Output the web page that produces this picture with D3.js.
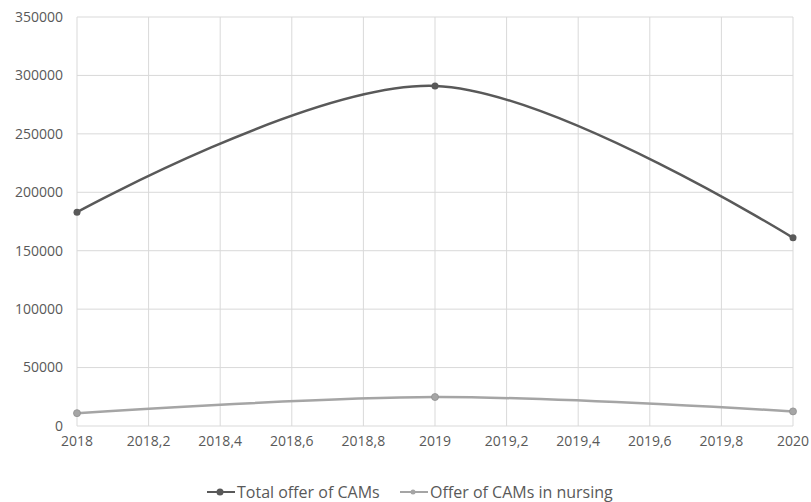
<!DOCTYPE html>
<html>
<head>
<meta charset="utf-8">
<script src="https://cdn.jsdelivr.net/npm/d3@7"></script>
<style>
  body { margin: 0; background: #fff; }
  text { font-family: "Open Sans", sans-serif; }
</style>
</head>
<body>
<script>
const years = [2018, 2019, 2020]
const totalOffer = [183000, 291000, 161000]
const nursingOffer = [11000, 24800, 12500]
const yTicks = [0, 50000, 100000, 150000, 200000, 250000, 300000, 350000]
const xTicks = [2018, 2018.2, 2018.4, 2018.6, 2018.8, 2019, 2019.2, 2019.4, 2019.6, 2019.8, 2020]
const seriesNames = ['Total offer of CAMs', 'Offer of CAMs in nursing']
const seriesColors = ['#595959', '#a5a5a5']

const width = 811
const height = 502
const plotLeft = 77, plotRight = 793, plotTop = 17, plotBottom = 426

const svg = d3.select('body').append('svg')
  .attr('width', width)
  .attr('height', height)

const x = d3.scaleLinear().domain([2018, 2020]).range([plotLeft, plotRight])
const y = d3.scaleLinear().domain([0, 350000]).range([plotBottom, plotTop])

// grid
svg.append('g')
  .selectAll('line')
  .data(yTicks)
  .enter()
  .append('line')
  .attr('x1', plotLeft).attr('x2', plotRight)
  .attr('y1', (d) => y(d)).attr('y2', (d) => y(d))
  .attr('stroke', '#d9d9d9')
  .attr('stroke-width', 1)

svg.append('g')
  .selectAll('line')
  .data(xTicks)
  .enter()
  .append('line')
  .attr('x1', (d) => x(d)).attr('x2', (d) => x(d))
  .attr('y1', plotTop).attr('y2', plotBottom)
  .attr('stroke', '#d9d9d9')
  .attr('stroke-width', 1)

// axes labels
const fmt = (d) => String(+d.toFixed(1)).replace('.', ',')

svg.append('g')
  .selectAll('text')
  .data(yTicks)
  .enter()
  .append('text')
  .attr('x', 63)
  .attr('y', (d) => y(d))
  .attr('dy', '0.35em')
  .attr('text-anchor', 'end')
  .attr('fill', '#595959')
  .style('font-size', '14px')
  .text((d) => d)

svg.append('g')
  .selectAll('text')
  .data(xTicks)
  .enter()
  .append('text')
  .attr('x', (d) => x(d))
  .attr('y', 446)
  .attr('text-anchor', 'middle')
  .attr('fill', '#595959')
  .style('font-size', '14px')
  .text(fmt)

// lines
const line = d3.line()
  .x((d) => x(d[0]))
  .y((d) => y(d[1]))
  .curve(d3.curveCardinal.tension(0))

const series = [totalOffer, nursingOffer].map((vals) => years.map((yr, i) => [yr, vals[i]]))

series.forEach((pts, i) => {
  svg.append('path')
    .datum(pts)
    .attr('d', line)
    .attr('fill', 'none')
    .attr('stroke', seriesColors[i])
    .attr('stroke-width', 2.5)

  svg.append('g')
    .selectAll('circle')
    .data(pts)
    .enter()
    .append('circle')
    .attr('cx', (d) => x(d[0]))
    .attr('cy', (d) => y(d[1]))
    .attr('r', 3.5)
    .attr('fill', seriesColors[i])
    .attr('stroke', i === 0 ? 'none' : '#8f8f8f')
    .attr('stroke-width', 0.8)
})

// legend
const legend = svg.append('g').attr('transform', 'translate(207, 492)')
const legendX = [0, 193]
seriesNames.forEach((name, i) => {
  const g = legend.append('g').attr('transform', `translate(${legendX[i]}, 0)`)
  g.append('line')
    .attr('x1', 0).attr('x2', 28)
    .attr('stroke', seriesColors[i])
    .attr('stroke-width', 2)
  g.append('circle')
    .attr('cx', 13)
    .attr('r', i === 0 ? 3.5 : 2.5)
    .attr('fill', seriesColors[i])
  g.append('text')
    .attr('x', 30)
    .attr('dy', '0.35em')
    .attr('fill', '#595959')
    .style('font-size', '16px')
    .text(name)
})
</script>
</body>
</html>
